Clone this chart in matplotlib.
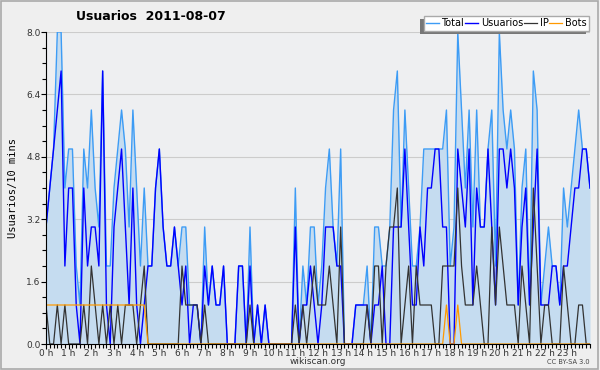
import numpy as np
import matplotlib
matplotlib.use("Agg")
import matplotlib.pyplot as plt
from matplotlib.ticker import MultipleLocator, FixedLocator
import matplotlib.patheffects as pe

# Data: users per 10 minutes, 2011-08-07 (145 samples, 0h -> 24h)
total = [3, 4, 5, 8, 8, 4, 5, 5, 2, 1, 5, 4, 6, 4, 3, 7, 2, 2, 4, 5,
         6, 5, 3, 6, 4, 2, 4, 2, 2, 4, 5, 3, 2, 2, 3, 2, 3, 3, 1, 1,
         1, 0, 3, 1, 2, 1, 1, 2, 0, 0, 0, 2, 2, 0, 3, 0, 1, 0, 1, 0,
         0, 0, 0, 0, 0, 0, 4, 0, 2, 1, 3, 3, 1, 2, 4, 5, 3, 2, 5, 0,
         0, 0, 1, 1, 1, 2, 0, 3, 3, 2, 2, 3, 6, 7, 3, 6, 4, 2, 2, 3,
         5, 5, 5, 5, 5, 5, 6, 2, 3, 8, 6, 4, 6, 3, 6, 3, 3, 5, 6, 2,
         8, 6, 5, 6, 5, 1, 4, 5, 1, 7, 6, 1, 2, 3, 2, 2, 1, 4, 3, 4,
         5, 6, 5, 5, 4]
usuarios = [3, 4, 5, 6, 7, 2, 4, 4, 1, 0, 4, 2, 3, 3, 2, 7, 1, 0, 3, 4,
            5, 3, 1, 4, 1, 0, 1, 2, 2, 4, 5, 3, 2, 2, 3, 2, 1, 2, 0, 1,
            1, 0, 2, 1, 2, 1, 1, 2, 0, 0, 0, 2, 2, 0, 2, 0, 1, 0, 1, 0,
            0, 0, 0, 0, 0, 0, 3, 0, 1, 1, 2, 1, 0, 1, 3, 3, 3, 2, 2, 0,
            0, 0, 1, 1, 1, 1, 0, 1, 1, 2, 0, 0, 3, 3, 3, 5, 3, 1, 1, 3,
            2, 4, 4, 5, 5, 3, 3, 0, 0, 5, 4, 3, 5, 1, 4, 3, 3, 5, 3, 1,
            5, 5, 4, 5, 4, 1, 3, 4, 1, 3, 5, 1, 1, 1, 2, 2, 1, 2, 2, 3,
            4, 4, 5, 5, 4]
ip = [1, 0, 0, 1, 0, 1, 0, 0, 0, 0, 1, 0, 2, 1, 0, 1, 0, 1, 0, 1,
      0, 1, 1, 1, 0, 1, 2, 0, 0, 0, 0, 0, 0, 0, 0, 0, 2, 1, 1, 1,
      1, 0, 1, 0, 0, 0, 0, 0, 0, 0, 0, 0, 0, 0, 1, 0, 0, 0, 0, 0,
      0, 0, 0, 0, 0, 0, 1, 0, 1, 0, 1, 2, 1, 1, 1, 2, 1, 0, 3, 0,
      0, 0, 0, 0, 0, 1, 0, 2, 2, 0, 2, 3, 3, 4, 0, 1, 2, 0, 2, 1,
      1, 1, 1, 0, 0, 2, 2, 2, 2, 4, 2, 1, 1, 1, 2, 1, 0, 0, 3, 1,
      3, 2, 1, 1, 1, 0, 2, 1, 0, 4, 2, 0, 1, 1, 0, 0, 0, 2, 1, 0,
      0, 1, 1, 0, 0]
bots = [1, 1, 1, 1, 1, 1, 1, 1, 1, 1, 1, 1, 1, 1, 1, 1, 1, 1, 1, 1,
        1, 1, 1, 1, 1, 1, 1, 0, 0, 0, 0, 0, 0, 0, 0, 0, 0, 0, 0, 0,
        0, 0, 0, 0, 0, 0, 0, 0, 0, 0, 0, 0, 0, 0, 0, 0, 0, 0, 0, 0,
        0, 0, 0, 0, 0, 0, 0, 0, 0, 0, 0, 0, 0, 0, 0, 0, 0, 0, 0, 0,
        0, 0, 0, 0, 0, 0, 0, 0, 0, 0, 0, 0, 0, 0, 0, 0, 0, 0, 0, 0,
        0, 0, 0, 0, 0, 0, 1, 0, 0, 1, 0, 0, 0, 0, 0, 0, 0, 0, 0, 0,
        0, 0, 0, 0, 0, 0, 0, 0, 0, 0, 0, 0, 0, 0, 0, 0, 0, 0, 0, 0,
        0, 0, 0, 0, 0]
hour_labels = ["%d h" % h for h in range(24)]

x = np.arange(len(total)) / 6.0

fig = plt.figure(figsize=(6, 3.7), dpi=100, facecolor="#efefef")
ax = fig.add_axes([46/600, 1-344/370, 544/600, 312/370])
ax.set_facecolor("#eeeff1")

ax.fill_between(x, 0, total, color="#c5dcf0", lw=0)
ax.plot(x, total, color="#3d9cf5", lw=1.0, label="Total")
ax.plot(x, usuarios, color="#0000ff", lw=1.0, label="Usuarios")
ax.plot(x, ip, color="#333333", lw=0.9, label="IP")
ax.plot(x, bots, color="#ff9900", lw=0.9, label="Bots")

ax.set_xlim(0, 24)
ax.set_ylim(0, 8)
ax.yaxis.set_major_locator(FixedLocator([0, 1.6, 3.2, 4.8, 6.4, 8.0]))
ax.yaxis.set_minor_locator(MultipleLocator(0.4))
ax.set_yticklabels(["0.0", "1.6", "3.2", "4.8", "6.4", "8.0"])
ax.xaxis.set_major_locator(FixedLocator(range(24)))
ax.xaxis.set_minor_locator(MultipleLocator(1/6))
ax.set_xticklabels(hour_labels)
ax.grid(axis="y", color="#cccccc", lw=0.8)
ax.set_axisbelow(True)
for s in ["top", "right"]:
    ax.spines[s].set_visible(False)
ax.tick_params(axis="both", which="major", labelsize=6.5, length=3.5, width=0.8,
               colors="black", pad=0.5)
ax.tick_params(axis="both", which="minor", length=2.8, width=0.8)
ax.tick_params(axis="x", labelcolor="#333333", pad=0)
ax.tick_params(axis="y", labelcolor="#333333")

ax.set_ylabel("Usuarios/10 mins", family="DejaVu Sans Mono", fontsize=7.5, labelpad=6)
fig.text(0.53, 1-361/370, "wikiscan.org", fontsize=6.5, color="#333333",
         ha="center", va="center")

fig.text(0.252, 0.955, "Usuarios  2011-08-07", fontsize=9, fontweight="bold",
         ha="center", va="center")
fig.text(0.982, 1-362/370, "CC BY-SA 3.0", fontsize=4.8, color="#444444",
         ha="right", va="center")

leg = ax.legend(loc="upper right", ncol=4, bbox_to_anchor=(1.0, 1.055), fontsize=7,
                frameon=True, fancybox=False, shadow=False, handlelength=1.3,
                handletextpad=0.3, columnspacing=0.1, borderpad=0.25,
                borderaxespad=0.1)
leg.get_frame().set_edgecolor("#aaaaaa")
leg.get_frame().set_facecolor("white")
leg.get_frame().set_alpha(1)
leg.get_frame().set_path_effects([pe.SimplePatchShadow(offset=(-2.5, -2.5), shadow_rgbFace="#777777", alpha=1), pe.Normal()])

fig.patches.append(plt.Rectangle((0.002, 0.003), 0.995, 0.994, transform=fig.transFigure,
                                 fill=False, edgecolor="#aaaaaa", lw=1.2))

fig.savefig("out.png", dpi=100, facecolor=fig.get_facecolor())
